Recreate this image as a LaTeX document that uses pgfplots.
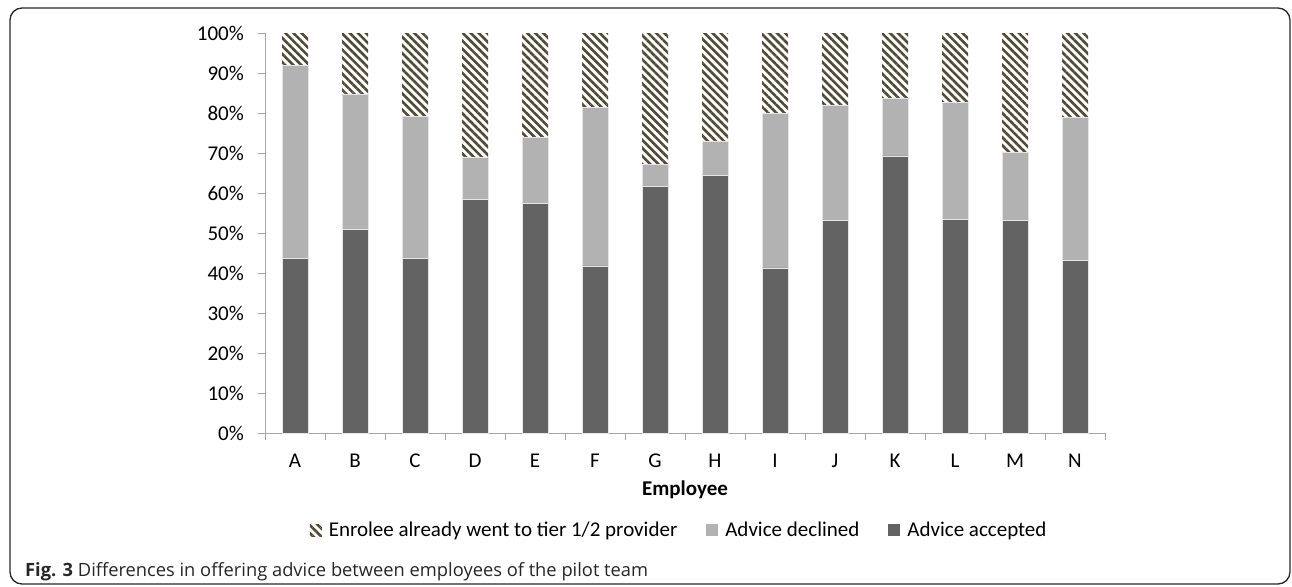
\documentclass[border=0pt]{standalone}
\usepackage{pgfplots}
\pgfplotsset{compat=1.18}
\usepackage{pgfplotstable}
\usetikzlibrary{patterns.meta}
\usepackage{fontspec}
\setmainfont{Carlito}
\newfontfamily\capfont{Open Sans}
\definecolor{acc}{HTML}{636363}
\definecolor{dec}{HTML}{B2B2B2}
\definecolor{hatchc}{HTML}{4F4B36}
\definecolor{axisgray}{HTML}{A6A6A6}

\pgfplotstableread{
x a d e
0 43.7 48.3 8.0
1 51.0 33.8 15.2
2 43.7 35.4 20.9
3 58.5 10.5 31.0
4 57.4 16.5 26.1
5 41.8 39.6 18.6
6 61.6 5.6 32.8
7 64.4 8.6 27.0
8 41.3 38.6 20.1
9 53.1 28.9 18.0
10 69.3 14.5 16.2
11 53.5 29.2 17.3
12 53.25 16.95 29.8
13 43.1 35.8 21.1
}\data

\begin{document}
\begin{tikzpicture}
\useasboundingbox (0pt,0pt) rectangle (1292pt,-586pt);
\draw[black!85, line width=1.3pt, rounded corners=12pt] (10pt,-8pt) rectangle (1290pt,-584pt);
\begin{axis}[
  at={(265pt,-433pt)}, anchor=south west,
  scale only axis, width=840pt, height=400pt,
  xmin=-0.5, xmax=13.5, ymin=0, ymax=100,
  ybar stacked, bar width=26pt,
  axis x line*=bottom, axis y line*=left,
  axis line style={axisgray, line width=1pt},
  every tick/.style={axisgray, line width=1pt},
  tick align=outside,
  major tick length=7pt, minor tick length=7pt,
  xtick={0,...,13},
  xticklabels={A,B,C,D,E,F,G,H,I,J,K,L,M,N},
  major x tick style={draw=none},
  minor xtick={-0.5,0.5,...,13.5},
  ytick={0,10,...,100},
  yticklabels={0\%,10\%,20\%,30\%,40\%,50\%,60\%,70\%,80\%,90\%,100\%},
  tick label style={font=\fontsize{21}{24}\selectfont, text=black},
  yticklabel style={inner sep=0pt, xshift=-14pt},
  xticklabel style={inner sep=0pt, yshift=-14pt},
  xlabel={\bfseries Employee},
  xlabel style={font=\fontsize{21}{24}\selectfont, at={(axis description cs:0.5,0)}, anchor=base, yshift=-62pt},
  legend columns=3,
  reverse legend,
  legend style={draw=none, fill=none, at={(axis description cs:0.493,-0.2425)}, anchor=center,
    font=\fontsize{21}{24}\selectfont,
    /tikz/every odd column/.append style={column sep=5pt},
    /tikz/every even column/.append style={column sep=27pt},
    inner sep=0pt},
  legend image code/.code={\fill[#1, draw=none] (0pt,-6pt) rectangle (12pt,6pt);},
]
\addplot[fill=acc, draw=white!80!gray, line width=0.6pt] table[x=x, y=a] {\data};
\addplot[fill=dec, draw=white!80!gray, line width=0.6pt] table[x=x, y=d] {\data};
\addplot[pattern={Lines[angle=-45, distance=5.7pt, line width=2.6pt]}, pattern color=hatchc, draw=none] table[x=x, y=e] {\data};
\legend{Advice accepted, Advice declined, Enrolee already went to tier 1/2 provider}
\end{axis}
\node[anchor=base west, inner sep=0pt, text=black!85, font=\capfont\fontsize{18.3}{22}\selectfont] at (25pt,-576pt) {\textbf{Fig. 3} Differences in offering advice between employees of the pilot team};
\end{tikzpicture}
\end{document}
